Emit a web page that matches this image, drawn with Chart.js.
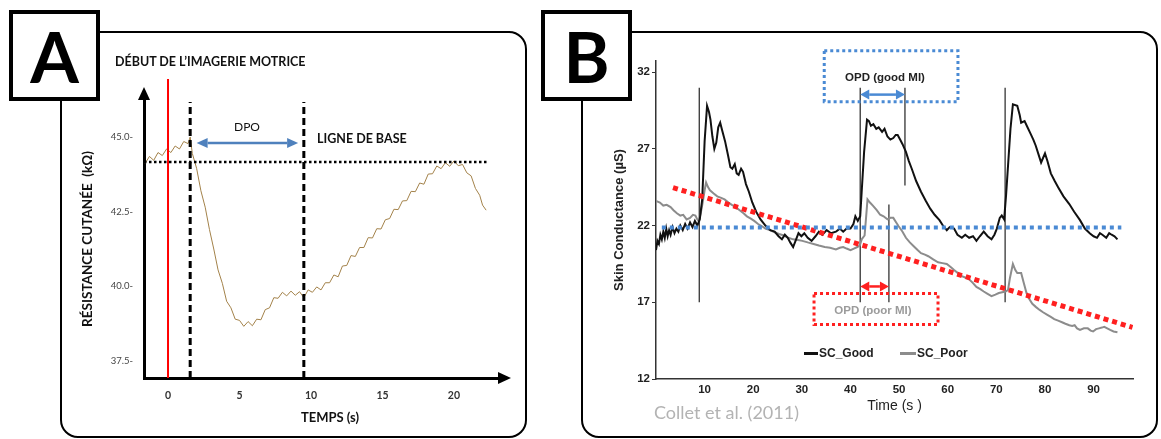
<!DOCTYPE html>
<html lang="fr">
<head>
<meta charset="utf-8">
<title>Imagerie motrice – réponse électrodermale</title>
<script src="https://cdn.jsdelivr.net/npm/chart.js@4.4.1/dist/chart.umd.min.js"></script>
<style>
  html, body { margin: 0; padding: 0; background: #fff; }
  #page { position: relative; width: 1161px; height: 439px; overflow: hidden; }
  .frame { position: absolute; border: 2.5px solid #000; border-radius: 18px; box-sizing: border-box; }
  .tag {
    position: absolute; width: 91px; height: 91px; top: 10px; box-sizing: border-box;
    border: 4px solid #000; background: #fff;
    display: flex; align-items: center; justify-content: center;
    font: bold 70px Lato, sans-serif; line-height: 1;
  }
  canvas { position: absolute; top: 0; }
  .txt { position: absolute; white-space: nowrap; line-height: 1; transform: translate(-50%, -50%); }
  .lft { transform: translate(0, -50%); }
  .a { font-family: Lato, sans-serif; font-weight: bold; color: #111; }
  .b { font-family: 'Liberation Sans', Arial, sans-serif; font-weight: bold; color: #222; }
  .key { position: absolute; height: 3px; top: 352px; }
</style>
</head>
<body>
<div id="page">
  <div class="frame" style="left:60px; top:31px; width:467px; height:407px"></div>
  <div class="frame" style="left:581px; top:31px; width:577px; height:407px"></div>

  <canvas id="chartA" width="540" height="439" style="left:0"></canvas>
  <canvas id="chartB" width="581" height="439" style="left:580px"></canvas>

  <div class="tag" style="left:9px">A</div>
  <div class="tag" style="left:541px">B</div>

  <!-- panel A labels -->
  <div class="txt lft a" style="left:115px; top:62px; font-size:12.5px">DÉBUT DE L’IMAGERIE MOTRICE</div>
  <div class="txt a" style="left:247px; top:127px; font-size:12px; font-weight:normal">DPO</div>
  <div class="txt lft a" style="left:317px; top:139px; font-size:12.5px">LIGNE DE BASE</div>
  <div class="txt a" style="left:330px; top:417px; font-size:13px">TEMPS (s)</div>

  <!-- panel B labels -->
  <div class="txt b" style="left:885px; top:78px; font-size:11.5px">OPD (good MI)</div>
  <div class="txt b" style="left:873px; top:311px; font-size:11.5px; color:#9b9b9b">OPD (poor MI)</div>
  <div class="key" style="left:804px; width:14px; background:#111"></div>
  <div class="txt lft b" style="left:819px; top:353px; font-size:12px">SC_Good</div>
  <div class="key" style="left:900px; width:16px; background:#8c8c8c"></div>
  <div class="txt lft b" style="left:917px; top:353px; font-size:12px">SC_Poor</div>
  <div class="txt lft" style="left:654px; top:412px; font:18px Lato, sans-serif; color:#b3b3b3">Collet et al. (2011)</div>
</div>

<script>
'use strict';

// ── Panel A data (skin resistance, kΩ) ─────────────────────
const timeA = [-1.6, -1.3, -1.0, -0.7, -0.4, -0.1, 0.2, 0.5, 0.8, 1.1,
  1.4, 1.55, 1.7, 2.0, 2.3, 2.6, 2.9, 3.2, 3.5, 3.8,
  4.1, 4.4, 4.7, 5.0, 5.3, 5.6, 5.9, 6.2, 6.5, 6.8,
  7.1, 7.4, 7.7, 8.0, 8.3, 8.6, 8.9, 9.2, 9.5, 9.8,
  10.1, 10.4, 10.7, 11.0, 11.3, 11.6, 11.9, 12.2, 12.5, 12.8,
  13.1, 13.4, 13.7, 14.0, 14.3, 14.6, 14.9, 15.2, 15.5, 15.8,
  16.1, 16.4, 16.7, 17.0, 17.3, 17.6, 17.9, 18.2, 18.5, 18.8,
  19.1, 19.4, 19.7, 20.0, 20.3, 20.6, 20.9, 21.2, 21.5, 21.8,
  22.0, 22.25];
const resistA = [44.12, 44.35, 44.22, 44.48, 44.38, 44.6, 44.48, 44.7, 44.6, 44.85,
  44.78, 45.0, 44.45, 43.95, 43.2, 42.65, 41.9, 41.25, 40.55, 40.1,
  39.5, 39.28, 38.9, 38.86, 38.66, 38.82, 38.68, 38.9, 38.88, 39.22,
  39.28, 39.62, 39.6, 39.8, 39.68, 39.84, 39.7, 39.82, 39.62, 39.88,
  39.8, 39.98, 39.88, 40.12, 40.12, 40.38, 40.32, 40.68, 40.7, 41.03,
  41.0, 41.3, 41.3, 41.63, 41.62, 41.93, 41.92, 42.23, 42.27, 42.58,
  42.57, 42.86, 42.87, 43.18, 43.17, 43.46, 43.42, 43.76, 43.77, 44.03,
  43.94, 44.14, 44.02, 44.2, 44.04, 44.08, 43.8, 43.7, 43.28, 43.05,
  42.72, 42.55];

const ticksAx = [0, 5, 10, 15, 20];
const ticksAy = [37.5, 40, 42.5, 45];
const rangeAx = [-1.68, 23.08];
const rangeAy = [36.93, 46.24];

const onsetA     = 0;          // début de l'imagerie
const onsetTopA  = 46.94;
const dpoLinesA  = [1.55, 9.5];
const dpoTopA    = 46.17;
const baselineA  = 44.16;
const baseSpanA  = [-1.68, 22.4];
const dpoSpanA   = [2.0, 9.1];
const dpoLevelA  = 44.8;

// ── Panel B data (skin conductance, µS) ────────────────────
const timeGood = [0.0, 0.3, 0.6, 0.9, 1.2, 1.5, 1.8, 2.1, 2.4, 2.7,
  3.0, 3.4, 3.8, 4.2, 4.6, 5.0, 5.5, 6.0, 6.5, 7.0,
  7.5, 8.0, 8.5, 9.0, 9.5, 10.0, 10.5, 10.9, 11.2, 11.6,
  12.0, 12.4, 12.8, 13.2, 13.6, 14.2, 14.8, 15.3, 15.7, 16.2,
  16.6, 17.0, 17.5, 17.9, 18.5, 19.1, 19.8, 20.6, 21.5, 22.5,
  23.5, 24.4, 25.2, 25.9, 26.5, 27.1, 27.6, 28.2, 28.7, 29.3,
  29.9, 30.5, 31.2, 32.0, 32.8, 33.5, 34.2, 35.1, 36.0, 37.0,
  37.8, 38.5, 39.2, 40.0, 40.6, 41.0, 41.5, 42.0, 42.3, 42.8,
  43.4, 43.8, 44.2, 44.7, 45.3, 45.8, 46.5, 47.0, 47.6, 48.2,
  48.8, 49.3, 49.7, 50.2, 50.7, 51.4, 52.0, 52.6, 53.5, 54.5,
  55.5, 56.4, 57.3, 58.3, 59.0, 59.8, 60.4, 61.3, 62.0, 62.9,
  63.6, 64.4, 65.2, 65.9, 66.6, 67.4, 68.2, 69.0, 69.6, 70.1,
  70.7, 71.1, 71.6, 72.0, 72.4, 72.9, 73.4, 74.3, 74.8, 75.1,
  75.8, 76.4, 77.0, 77.6, 78.1, 78.7, 79.2, 79.6, 80.0, 80.5,
  81.2, 82.0, 82.7, 83.8, 85.0, 86.0, 87.2, 88.2, 89.2, 90.0,
  90.7, 91.3, 91.8, 92.6, 93.2, 93.7, 94.3, 94.9];
const scGood = [20.4, 21.0, 20.8, 21.4, 21.1, 21.6, 21.2, 21.8, 21.3, 21.7,
  21.4, 21.9, 21.5, 21.8, 21.6, 22.0, 21.7, 22.1, 21.8, 22.2,
  21.9, 22.3, 22.0, 22.4, 23.7, 27.5, 29.8, 29.4, 28.9, 27.8,
  27.0, 27.4, 28.4, 28.7, 28.2, 27.5, 26.6, 25.8, 25.7, 26.0,
  25.4, 25.3, 25.7, 25.5, 24.7, 24.2, 23.5, 22.9, 22.4, 22.0,
  21.7, 21.6, 21.3, 21.1, 21.4, 21.2, 20.9, 20.6, 21.0, 21.5,
  21.3, 21.5, 21.2, 21.0, 21.3, 21.6, 21.4, 21.7, 21.5, 21.6,
  21.8, 21.6, 21.8, 21.8, 22.1, 22.6, 22.3, 22.6, 24.2, 26.8,
  28.9, 28.8, 28.5, 28.6, 28.3, 28.4, 28.1, 28.3, 27.8, 27.6,
  27.7, 27.9, 27.9, 27.6, 27.3, 26.8, 26.2, 25.7, 24.9, 24.2,
  23.6, 23.1, 22.7, 22.35, 22.0, 21.7, 21.9, 21.8, 21.4, 21.2,
  21.4, 21.2, 21.3, 21.0, 21.3, 21.6, 21.3, 21.1, 21.4, 21.8,
  22.5, 22.65, 22.4, 24.0, 25.9, 28.3, 29.9, 29.8, 29.2, 28.7,
  28.8, 28.4, 28.0, 27.6, 27.2, 26.6, 26.1, 26.4, 26.7, 26.2,
  25.4, 24.9, 24.5, 23.9, 23.4, 22.9, 22.35, 21.8, 21.5, 21.3,
  21.2, 21.5, 21.4, 21.2, 21.5, 21.4, 21.3, 21.1];

const timePoor = [0.0, 0.8, 1.5, 2.2, 3.0, 3.6, 4.3, 5.0, 5.6, 6.3,
  7.0, 7.6, 8.1, 8.5, 8.8, 9.2, 9.6, 10.0, 10.3, 10.7,
  11.1, 11.8, 12.6, 13.4, 14.1, 14.9, 15.6, 16.4, 17.2, 18.0,
  18.7, 19.5, 20.2, 21.0, 21.8, 22.5, 23.4, 24.4, 25.3, 26.3,
  27.2, 28.2, 29.2, 30.1, 31.2, 32.4, 33.5, 34.7, 35.8, 37.0,
  37.8, 38.5, 39.2, 40.0, 40.7, 41.4, 41.9, 42.3, 42.9, 43.2,
  43.5, 44.0, 44.6, 45.4, 46.1, 46.8, 47.6, 48.2, 48.8, 49.4,
  49.9, 50.7, 51.4, 52.2, 53.0, 53.8, 54.5, 55.3, 56.0, 57.0,
  58.0, 58.9, 59.8, 60.6, 61.3, 62.1, 62.9, 63.7, 64.4, 65.2,
  65.9, 66.7, 67.4, 68.2, 69.0, 69.8, 70.5, 71.2, 71.9, 72.4,
  72.8, 73.4, 73.9, 74.3, 75.1, 75.6, 76.2, 76.8, 77.4, 78.1,
  78.9, 79.6, 80.4, 81.2, 81.9, 82.7, 83.5, 84.2, 85.0, 85.6,
  86.1, 86.6, 87.2, 88.0, 88.8, 89.4, 89.9, 90.5, 91.1, 91.7,
  92.2, 92.8, 93.4, 94.1, 94.9];
const scPoor = [23.6, 23.5, 23.3, 23.35, 23.2, 23.0, 22.8, 22.65, 22.7, 22.4,
  22.5, 22.7, 22.65, 22.4, 22.3, 22.8, 23.5, 24.3, 24.8, 24.5,
  24.3, 24.1, 23.9, 23.8, 23.7, 23.5, 23.35, 23.2, 23.0, 22.8,
  22.6, 22.45, 22.3, 22.1, 21.95, 21.8, 21.7, 21.56, 21.45, 21.35,
  21.2, 21.1, 21.05, 21.0, 20.9, 20.8, 20.7, 20.6, 20.55, 20.44,
  20.55, 20.6, 20.5, 20.4, 20.5, 20.6, 20.7, 21.1, 21.35, 22.5,
  23.7, 23.5, 23.3, 23.0, 22.7, 22.6, 22.4, 22.5, 22.5, 22.2,
  21.95, 21.6, 21.2, 20.9, 20.65, 20.4, 20.2, 20.1, 20.0, 19.8,
  19.6, 19.55, 19.5, 19.3, 19.1, 18.9, 18.7, 18.6, 18.5, 18.25,
  18.0, 17.85, 17.7, 17.55, 17.4, 17.5, 17.6, 17.65, 17.7, 17.8,
  18.6, 19.5, 19.1, 18.9, 18.9, 18.3, 17.6, 17.2, 16.9, 16.7,
  16.5, 16.35, 16.2, 16.05, 15.9, 15.8, 15.7, 15.6, 15.5, 15.45,
  15.5, 15.3, 15.2, 15.3, 15.3, 15.15, 15.1, 15.25, 15.3, 15.35,
  15.4, 15.3, 15.2, 15.1, 15.05];

const ticksBx = [10, 20, 30, 40, 50, 60, 70, 80, 90];
const ticksBy = [12, 17, 22, 27, 32];
const rangeBx = [0, 98.1];
const rangeBy = [12, 32.72];

const markerTimes = [8.9, 42.0, 51.2, 47.9, 71.8];
const markerLow   = [17.0, 17.0, 24.6, 17.0, 17.0];
const markerHigh  = [30.98, 30.98, 30.98, 23.37, 30.98];

const baselineB  = 21.87;
const baseSpanB  = [1.2, 95.7];
const trendTime  = [3.5, 98.0];
const trendValue = [24.47, 15.36];

const goodSpan  = [42.0, 51.2];
const goodLevel = 30.53;
const goodBox   = [34.6, 62.1, 30.07, 33.39];
const poorSpan  = [42.0, 47.9];
const poorLevel = 18.03;
const poorBox   = [32.5, 58.0, 15.55, 17.57];

// ── Helpers ────────────────────────────────────────────────
const pts = (xs, ys) => xs.map((x, i) => ({ x, y: ys[i] }));
const fixTicks = list => s => { s.ticks = list.map(v => ({ value: v })); };

function drawArrow(ctx, x1, x2, y, color, width, head, half) {
  ctx.save();
  ctx.strokeStyle = color;
  ctx.fillStyle = color;
  ctx.lineWidth = width;
  ctx.beginPath(); ctx.moveTo(x1 + head, y); ctx.lineTo(x2 - head, y); ctx.stroke();
  ctx.beginPath(); ctx.moveTo(x1, y); ctx.lineTo(x1 + head, y - half); ctx.lineTo(x1 + head, y + half); ctx.closePath(); ctx.fill();
  ctx.beginPath(); ctx.moveTo(x2, y); ctx.lineTo(x2 - head, y - half); ctx.lineTo(x2 - head, y + half); ctx.closePath(); ctx.fill();
  ctx.restore();
}

function drawDotBox(ctx, x, y, box, color) {
  const l = x.getPixelForValue(box[0]), r = x.getPixelForValue(box[1]);
  const b = y.getPixelForValue(box[2]), t = y.getPixelForValue(box[3]);
  ctx.save();
  ctx.strokeStyle = color;
  ctx.lineWidth = 3;
  ctx.setLineDash([3, 3]);
  ctx.strokeRect(l, t, r - l, b - t);
  ctx.restore();
}

Chart.defaults.animation = false;
Chart.defaults.plugins.legend.display = false;
Chart.defaults.plugins.tooltip.enabled = false;
Chart.defaults.elements.point.radius = 0;
Chart.defaults.elements.line.tension = 0;

// ── Panel A ────────────────────────────────────────────────
const decorA = {
  id: 'decorA',
  afterDraw(chart) {
    const { ctx, chartArea: a, scales: { x, y } } = chart;
    ctx.save();
    ctx.fillStyle = '#000';
    ctx.beginPath(); ctx.moveTo(a.left, a.top - 13); ctx.lineTo(a.left - 6, a.top); ctx.lineTo(a.left + 6, a.top); ctx.fill();
    ctx.beginPath(); ctx.moveTo(a.right + 13, a.bottom); ctx.lineTo(a.right, a.bottom - 6); ctx.lineTo(a.right, a.bottom + 6); ctx.fill();
    ctx.restore();
    drawArrow(ctx, x.getPixelForValue(dpoSpanA[0]), x.getPixelForValue(dpoSpanA[1]),
      y.getPixelForValue(dpoLevelA), '#4f81bd', 2.5, 11, 5);
  }
};

new Chart(document.getElementById('chartA'), {
  type: 'line',
  data: {
    datasets: [
      { data: pts(timeA, resistA), borderColor: '#a3824a', borderWidth: 1, order: 3 },
      { data: pts(baseSpanA, [baselineA, baselineA]), borderColor: '#000', borderWidth: 2.5, borderDash: [2.5, 2.5], order: 1 },
      { data: pts([onsetA, onsetA], [rangeAy[0], onsetTopA]), borderColor: '#ff0000', borderWidth: 2, clip: false, order: 2 },
      { data: pts([dpoLinesA[0], dpoLinesA[0]], [rangeAy[0], dpoTopA]), borderColor: '#000', borderWidth: 3, borderDash: [7, 4], order: 0 },
      { data: pts([dpoLinesA[1], dpoLinesA[1]], [rangeAy[0], dpoTopA]), borderColor: '#000', borderWidth: 3, borderDash: [7, 4], order: 0 }
    ]
  },
  options: {
    responsive: false,
    layout: { padding: { left: 0, top: 100, right: 42, bottom: 0 } },
    scales: {
      x: {
        type: 'linear', min: rangeAx[0], max: rangeAx[1],
        afterBuildTicks: fixTicks(ticksAx),
        afterFit: s => { s.height = 61; },
        grid: { display: false, drawTicks: false },
        border: { display: true, color: '#000', width: 3 },
        ticks: { padding: 11, color: '#333', autoSkip: false, maxRotation: 0,
                 font: { family: 'Lato', size: 10.5, weight: 'bold' } }
      },
      y: {
        type: 'linear', min: rangeAy[0], max: rangeAy[1],
        afterBuildTicks: fixTicks(ticksAy),
        afterFit: s => { s.width = 144; },
        grid: { display: false, drawTicks: false },
        border: { display: true, color: '#000', width: 3 },
        ticks: { padding: 11, color: '#444', font: { family: 'Lato', size: 9.5 },
                 callback: v => v.toFixed(1) + '-' },
        title: { display: true, text: 'RÉSISTANCE CUTANÉE  (kΩ)', color: '#111',
                 font: { family: 'Lato', size: 13.5, weight: 'bold' }, padding: { top: 80, bottom: 0 } }
      }
    }
  },
  plugins: [decorA]
});

// ── Panel B ────────────────────────────────────────────────
const decorB = {
  id: 'decorB',
  afterDraw(chart) {
    const { ctx, scales: { x, y } } = chart;
    drawDotBox(ctx, x, y, goodBox, '#4a8ad4');
    drawDotBox(ctx, x, y, poorBox, '#ff2020');
    drawArrow(ctx, x.getPixelForValue(goodSpan[0]), x.getPixelForValue(goodSpan[1]),
      y.getPixelForValue(goodLevel), '#4a8ad4', 2.5, 9, 5);
    drawArrow(ctx, x.getPixelForValue(poorSpan[0]), x.getPixelForValue(poorSpan[1]),
      y.getPixelForValue(poorLevel), '#ff2020', 2.5, 9, 5);
  }
};

const markerSets = markerTimes.map((t, i) => ({
  data: pts([t, t], [markerLow[i], markerHigh[i]]),
  borderColor: '#333', borderWidth: 1.3, order: 4
}));

new Chart(document.getElementById('chartB'), {
  type: 'line',
  data: {
    datasets: [
      { label: 'SC_Good', data: pts(timeGood, scGood), borderColor: '#111', borderWidth: 2, order: 2 },
      { label: 'SC_Poor', data: pts(timePoor, scPoor), borderColor: '#8c8c8c', borderWidth: 2, order: 3 },
      { data: pts(baseSpanB, [baselineB, baselineB]), borderColor: '#4a8ad4', borderWidth: 4, borderDash: [4, 4], order: 0 },
      { data: pts(trendTime, trendValue), borderColor: '#ff2020', borderWidth: 5, borderDash: [5, 4], order: 0 },
      ...markerSets
    ]
  },
  options: {
    responsive: false,
    layout: { padding: { left: 0, top: 61, right: 28, bottom: 0 } },
    scales: {
      x: {
        type: 'linear', min: rangeBx[0], max: rangeBx[1],
        afterBuildTicks: fixTicks(ticksBx),
        afterFit: s => { s.height = 60; },
        grid: { display: false, drawTicks: false },
        border: { display: true, color: '#333', width: 1.5 },
        ticks: { padding: 4, color: '#222', autoSkip: false, maxRotation: 0,
                 font: { family: 'Liberation Sans', size: 11.5, weight: 'bold' } },
        title: { display: true, text: 'Time (s )', color: '#222',
                 font: { family: 'Liberation Sans', size: 14 }, padding: { top: 0, bottom: 24 } }
      },
      y: {
        type: 'linear', min: rangeBy[0], max: rangeBy[1],
        afterBuildTicks: fixTicks(ticksBy),
        afterFit: s => { s.width = 76; },
        grid: { display: true, drawOnChartArea: false, drawTicks: true, tickLength: 4, tickColor: '#333', tickWidth: 1 },
        border: { display: true, color: '#333', width: 1.5 },
        ticks: { padding: 2, color: '#222', font: { family: 'Liberation Sans', size: 11.5, weight: 'bold' } },
        title: { display: true, text: 'Skin Conductance (µS)', color: '#222',
                 font: { family: 'Liberation Sans', size: 13, weight: 'bold' }, padding: { top: 32, bottom: 0 } }
      }
    }
  },
  plugins: [decorB]
});
</script>
</body>
</html>
